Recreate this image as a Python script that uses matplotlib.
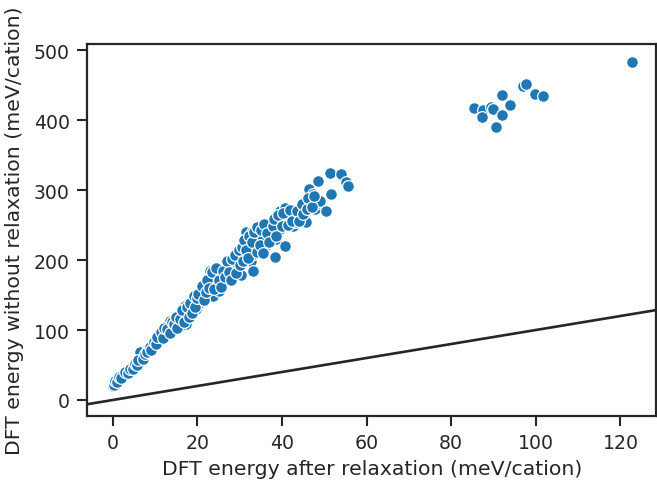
import matplotlib
matplotlib.use("Agg")
import matplotlib.pyplot as plt
import seaborn as sns

# DFT energies (meV/cation): after relaxation vs without relaxation
relaxed = [
    0.1, 0.9, 2.4, 3.2, 4.4, 6.8, 6.4, 8.3, 9.5, 11.1, 10.7, 12.3, 13.1, 14.2,
    13.5, 15.4, 17.4, 17.4, 15.8, 17.0, 19.0, 19.7, 20.9, 20.8, 20.9, 22.5,
    22.9, 23.2, 23.7, 24.4, 25.1, 26.2, 26.9, 28.5, 28.8, 29.7, 30.4, 31.2,
    31.6, 32.8, 32.4, 32.6, 33.4, 33.8, 33.1, 35.3, 36.1, 36.3, 37.1, 37.5,
    38.3, 38.7, 39.1, 39.5, 39.5, 40.7, 40.7, 41.1, 41.9, 42.7, 43.0, 44.2,
    44.6, 45.3, 45.7, 46.5, 47.3, 47.7, 48.5, 48.5, 48.9, 50.5, 51.3, 51.6,
    54.0, 55.2, 55.6,
    0.2, 0.5, 1.0, 1.5, 2.0, 2.8, 3.5, 4.0, 4.8, 5.2, 5.8, 6.0, 7.2, 7.5,
    8.0, 8.8, 9.0, 9.8, 10.2, 10.5,
    11.5, 11.8, 12.0, 12.8, 13.5, 14.0, 14.5, 15.0, 15.2, 16.0, 16.3, 16.8,
    17.5, 18.0, 18.3, 18.8, 19.2, 19.5, 20.0, 20.2,
    21.2, 21.5, 22.0, 22.2, 22.8, 23.5, 24.0, 24.5, 25.0, 25.5, 26.0, 26.5,
    27.0, 27.5, 28.0, 28.2, 29.0, 29.2, 29.8, 30.0,
    30.5, 30.8, 31.0, 31.5, 32.0, 32.2, 33.0, 33.5, 34.0, 34.2, 34.8, 35.0,
    35.5, 35.8, 36.5, 37.0, 37.8, 38.0, 38.5, 39.0,
    40.0, 40.3, 41.5, 42.0, 42.3, 43.5, 44.0, 44.8, 45.0, 46.0, 46.2, 47.0,
    47.5,
    85.5, 87.6, 87.2, 89.5, 89.8, 90.7, 92.1, 92.1, 94.0, 96.9, 97.8, 99.7,
    101.6, 122.8,
]
unrelaxed = [
    20, 30, 35, 40, 44, 58, 68, 73, 78, 87, 92, 97, 104, 101,
    113, 120, 123, 109, 106, 135, 140, 130, 140, 149, 163, 159,
    185, 175, 149, 168, 156, 170, 190, 192, 201, 190, 178, 209,
    240, 240, 220, 199, 209, 220, 185, 230, 220, 247, 235, 251,
    204, 230, 254, 270, 244, 220, 275, 259, 263, 249, 254, 275,
    263, 282, 254, 301, 294, 273, 313, 282, 285, 270, 325, 294,
    323, 311, 306,
    22, 27, 26, 33, 31, 40, 39, 45, 45, 52, 50, 57, 58, 66,
    68, 76, 71, 83, 80, 90,
    97, 88, 103, 101, 96, 112, 108, 118, 103, 116, 128, 111,
    133, 119, 139, 124, 148, 133, 146, 152,
    163, 143, 155, 172, 160, 183, 158, 188, 172, 162, 185, 176,
    198, 183, 172, 201, 207, 182, 214, 193,
    218, 198, 228, 215, 203, 235, 226, 240, 212, 247, 222, 243,
    210, 252, 238, 226, 248, 258, 235, 265,
    248, 267, 250, 272, 256, 270, 256, 280, 266, 273, 288, 276,
    292,
    417, 414, 404, 419, 416, 390, 436, 407, 421, 449, 451, 437,
    434, 483,
]

sns.set_style("ticks")
plt.rcParams["font.family"] = ["DejaVu Sans"]
plt.rcParams["text.color"] = "#262626"
plt.rcParams["axes.labelcolor"] = "#262626"

fig, ax = plt.subplots(figsize=(6.57, 4.81), dpi=100)
fig.subplots_adjust(left=0.1324, right=0.999, top=0.9064, bottom=0.133)

sns.scatterplot(x=relaxed, y=unrelaxed, ax=ax, color="#1f77b4",
                s=72, edgecolor="white", linewidth=0.9, zorder=3)
ax.axline((0, 0), slope=1, color="#262626", lw=1.9, zorder=2)

ax.set_xlim(-6.1, 128.5)
ax.set_ylim(-22.9, 508.6)
ax.set_xticks([0, 20, 40, 60, 80, 100, 120])
ax.set_yticks([0, 100, 200, 300, 400, 500])
ax.set_xlabel("DFT energy after relaxation (meV/cation)", fontsize=14.7, labelpad=5)
ax.set_ylabel("DFT energy without relaxation (meV/cation)", fontsize=14.7, labelpad=7)
ax.tick_params(labelsize=13.6, length=7.5, width=1.5, colors="#262626", pad=5)
for sp in ax.spines.values():
    sp.set_linewidth(1.6)
    sp.set_color("#262626")

fig.savefig("out.png", dpi=100)
